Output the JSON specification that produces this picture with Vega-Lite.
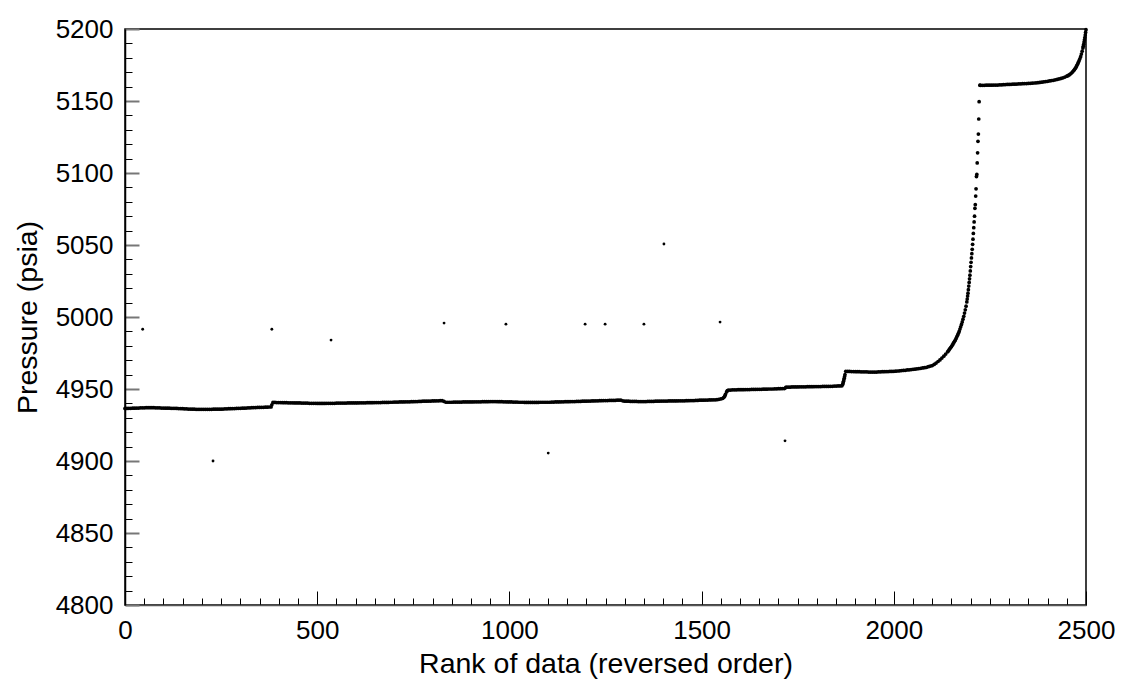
{
"$schema":"https://vega.github.io/schema/vega-lite/v6.json",
"width":961,"height":576,
"autosize":{"type":"none"},
"padding":{"left":125,"top":29,"right":39,"bottom":77},
"background":"white",
"config":{"font":"Liberation Sans","view":{"stroke":"black","strokeWidth":1.5},
"axis":{"grid":false,"labelFont":"Liberation Sans","titleFont":"Liberation Sans","labelFontSize":26,"titleFontSize":28.5,"titleFontWeight":"normal","labelColor":"black","titleColor":"black","domainColor":"black","domainWidth":1.5,"labelOverlap":false,"labelFlush":false}},
"datasets":{
"curve":[
{"r":0,"p":4936.5},{"r":5,"p":4936.5},{"r":10,"p":4936.6},{"r":15,"p":4936.6},{"r":20,"p":4936.7},{"r":25,"p":4936.7},{"r":30,"p":4936.8},{"r":35,"p":4936.8},{"r":40,"p":4936.9},{"r":45,"p":4936.9},{"r":50,"p":4936.9},{"r":55,"p":4937.0},{"r":60,"p":4937.0},{"r":65,"p":4937.0},{"r":70,"p":4937.0},{"r":75,"p":4937.0},{"r":80,"p":4936.9},{"r":85,"p":4936.9},{"r":90,"p":4936.9},{"r":95,"p":4936.8},{"r":100,"p":4936.8},{"r":105,"p":4936.7},{"r":110,"p":4936.7},{"r":115,"p":4936.7},{"r":120,"p":4936.6},{"r":125,"p":4936.6},{"r":130,"p":4936.6},{"r":135,"p":4936.5},{"r":140,"p":4936.4},{"r":145,"p":4936.4},{"r":150,"p":4936.3},{"r":155,"p":4936.2},{"r":160,"p":4936.2},{"r":165,"p":4936.1},{"r":170,"p":4936.1},{"r":175,"p":4936.0},{"r":180,"p":4936.0},{"r":185,"p":4935.9},{"r":190,"p":4935.9},{"r":195,"p":4935.9},{"r":200,"p":4935.9},{"r":205,"p":4935.9},{"r":210,"p":4935.9},{"r":215,"p":4935.9},{"r":220,"p":4935.9},{"r":225,"p":4935.9},{"r":230,"p":4936.0},{"r":235,"p":4936.0},{"r":240,"p":4936.0},{"r":245,"p":4936.0},{"r":250,"p":4936.0},{"r":255,"p":4936.1},{"r":260,"p":4936.2},{"r":265,"p":4936.2},{"r":270,"p":4936.3},{"r":275,"p":4936.3},{"r":280,"p":4936.4},{"r":285,"p":4936.4},{"r":290,"p":4936.5},{"r":295,"p":4936.6},{"r":300,"p":4936.6},{"r":305,"p":4936.7},{"r":310,"p":4936.7},{"r":315,"p":4936.8},{"r":320,"p":4936.9},{"r":325,"p":4936.9},{"r":330,"p":4937.0},{"r":335,"p":4937.1},{"r":340,"p":4937.1},{"r":345,"p":4937.2},{"r":350,"p":4937.2},{"r":355,"p":4937.3},{"r":360,"p":4937.3},{"r":365,"p":4937.4},{"r":370,"p":4937.4},{"r":375,"p":4937.5},{"r":380,"p":4937.5},{"r":382,"p":4939.0},{"r":385,"p":4940.7},
{"r":390,"p":4940.7},{"r":395,"p":4940.6},{"r":400,"p":4940.6},{"r":405,"p":4940.6},{"r":410,"p":4940.5},{"r":415,"p":4940.5},{"r":420,"p":4940.5},{"r":425,"p":4940.4},{"r":430,"p":4940.4},{"r":435,"p":4940.4},{"r":440,"p":4940.3},{"r":445,"p":4940.3},{"r":450,"p":4940.3},{"r":455,"p":4940.3},{"r":460,"p":4940.2},{"r":465,"p":4940.2},{"r":470,"p":4940.2},{"r":475,"p":4940.2},{"r":480,"p":4940.1},{"r":485,"p":4940.1},{"r":490,"p":4940.1},{"r":495,"p":4940.1},{"r":500,"p":4940.0},{"r":505,"p":4940.0},{"r":510,"p":4940.0},{"r":515,"p":4940.0},{"r":520,"p":4940.0},{"r":525,"p":4940.1},{"r":530,"p":4940.1},{"r":535,"p":4940.1},{"r":540,"p":4940.1},{"r":545,"p":4940.1},{"r":550,"p":4940.2},{"r":555,"p":4940.2},{"r":560,"p":4940.2},{"r":565,"p":4940.2},{"r":570,"p":4940.2},{"r":575,"p":4940.2},{"r":580,"p":4940.3},{"r":585,"p":4940.3},{"r":590,"p":4940.3},{"r":595,"p":4940.3},{"r":600,"p":4940.3},{"r":605,"p":4940.3},{"r":610,"p":4940.4},{"r":615,"p":4940.4},{"r":620,"p":4940.4},{"r":625,"p":4940.4},{"r":630,"p":4940.5},{"r":635,"p":4940.5},{"r":640,"p":4940.5},{"r":645,"p":4940.5},{"r":650,"p":4940.6},{"r":655,"p":4940.6},{"r":660,"p":4940.6},{"r":665,"p":4940.6},{"r":670,"p":4940.7},{"r":675,"p":4940.7},{"r":680,"p":4940.7},{"r":685,"p":4940.7},{"r":690,"p":4940.8},{"r":695,"p":4940.8},{"r":700,"p":4940.9},{"r":705,"p":4940.9},{"r":710,"p":4940.9},{"r":715,"p":4941.0},{"r":720,"p":4941.0},{"r":725,"p":4941.0},{"r":730,"p":4941.1},{"r":735,"p":4941.1},{"r":740,"p":4941.1},{"r":745,"p":4941.2},{"r":750,"p":4941.2},{"r":755,"p":4941.3},{"r":760,"p":4941.3},{"r":765,"p":4941.4},{"r":770,"p":4941.4},{"r":775,"p":4941.5},{"r":780,"p":4941.5},{"r":785,"p":4941.5},{"r":790,"p":4941.6},{"r":795,"p":4941.6},{"r":800,"p":4941.7},{"r":805,"p":4941.7},{"r":810,"p":4941.8},{"r":815,"p":4941.8},{"r":820,"p":4941.9},{"r":825,"p":4941.9},{"r":830,"p":4941.4},{"r":835,"p":4940.8},{"r":840,"p":4940.8},{"r":845,"p":4940.8},{"r":850,"p":4940.8},{"r":855,"p":4940.9},{"r":860,"p":4940.9},{"r":865,"p":4940.9},{"r":870,"p":4940.9},{"r":875,"p":4940.9},{"r":880,"p":4941.0},{"r":885,"p":4941.0},{"r":890,"p":4941.0},{"r":895,"p":4941.0},{"r":900,"p":4941.0},{"r":905,"p":4941.0},{"r":910,"p":4941.1},{"r":915,"p":4941.1},{"r":920,"p":4941.1},{"r":925,"p":4941.1},{"r":930,"p":4941.2},{"r":935,"p":4941.2},{"r":940,"p":4941.2},{"r":945,"p":4941.2},{"r":950,"p":4941.3},{"r":955,"p":4941.3},{"r":960,"p":4941.3},{"r":965,"p":4941.3},{"r":970,"p":4941.2},{"r":975,"p":4941.2},{"r":980,"p":4941.2},{"r":985,"p":4941.1},{"r":990,"p":4941.1},{"r":995,"p":4941.0},{"r":1000,"p":4941.0},{"r":1005,"p":4941.0},{"r":1010,"p":4940.9},{"r":1015,"p":4940.9},{"r":1020,"p":4940.9},{"r":1025,"p":4940.8},{"r":1030,"p":4940.8},{"r":1035,"p":4940.8},{"r":1040,"p":4940.7},{"r":1045,"p":4940.7},{"r":1050,"p":4940.7},{"r":1055,"p":4940.7},{"r":1060,"p":4940.7},{"r":1065,"p":4940.7},{"r":1070,"p":4940.7},{"r":1075,"p":4940.7},{"r":1080,"p":4940.8},{"r":1085,"p":4940.8},{"r":1090,"p":4940.8},{"r":1095,"p":4940.8},{"r":1100,"p":4940.8},{"r":1105,"p":4940.8},{"r":1110,"p":4940.9},{"r":1115,"p":4940.9},{"r":1120,"p":4941.0},{"r":1125,"p":4941.0},{"r":1130,"p":4941.0},{"r":1135,"p":4941.1},{"r":1140,"p":4941.1},{"r":1145,"p":4941.2},{"r":1150,"p":4941.2},{"r":1155,"p":4941.2},{"r":1160,"p":4941.3},{"r":1165,"p":4941.3},{"r":1170,"p":4941.3},{"r":1175,"p":4941.4},{"r":1180,"p":4941.4},{"r":1185,"p":4941.4},{"r":1190,"p":4941.5},{"r":1195,"p":4941.5},{"r":1200,"p":4941.5},{"r":1205,"p":4941.6},{"r":1210,"p":4941.6},{"r":1215,"p":4941.7},{"r":1220,"p":4941.7},{"r":1225,"p":4941.8},{"r":1230,"p":4941.8},{"r":1235,"p":4941.9},{"r":1240,"p":4941.9},{"r":1245,"p":4942.0},{"r":1250,"p":4942.0},{"r":1255,"p":4942.0},{"r":1260,"p":4942.1},{"r":1265,"p":4942.1},{"r":1270,"p":4942.1},{"r":1275,"p":4942.1},{"r":1280,"p":4942.2},{"r":1285,"p":4942.2},{"r":1290,"p":4942.2},{"r":1295,"p":4941.8},{"r":1300,"p":4941.5},{"r":1305,"p":4941.5},{"r":1310,"p":4941.5},{"r":1315,"p":4941.4},{"r":1320,"p":4941.4},{"r":1325,"p":4941.4},{"r":1330,"p":4941.4},{"r":1335,"p":4941.3},{"r":1340,"p":4941.3},{"r":1345,"p":4941.3},{"r":1350,"p":4941.3},{"r":1355,"p":4941.3},{"r":1360,"p":4941.4},{"r":1365,"p":4941.4},{"r":1370,"p":4941.4},{"r":1375,"p":4941.4},{"r":1380,"p":4941.5},{"r":1385,"p":4941.5},{"r":1390,"p":4941.5},{"r":1395,"p":4941.6},{"r":1400,"p":4941.6},{"r":1405,"p":4941.6},{"r":1410,"p":4941.6},{"r":1415,"p":4941.7},{"r":1420,"p":4941.7},{"r":1425,"p":4941.7},{"r":1430,"p":4941.7},{"r":1435,"p":4941.7},{"r":1440,"p":4941.8},{"r":1445,"p":4941.8},{"r":1450,"p":4941.8},{"r":1455,"p":4941.8},{"r":1460,"p":4941.9},{"r":1465,"p":4941.9},{"r":1470,"p":4942.0},{"r":1475,"p":4942.0},{"r":1480,"p":4942.0},{"r":1485,"p":4942.1},{"r":1490,"p":4942.1},{"r":1495,"p":4942.2},{"r":1500,"p":4942.2},{"r":1505,"p":4942.2},{"r":1510,"p":4942.3},{"r":1515,"p":4942.3},{"r":1520,"p":4942.4},{"r":1525,"p":4942.4},{"r":1530,"p":4942.5},{"r":1535,"p":4942.5},{"r":1540,"p":4942.6},{"r":1545,"p":4942.8},{"r":1550,"p":4943.1},{"r":1555,"p":4943.5},{"r":1558,"p":4944.2},{"r":1560,"p":4945.0},{"r":1562,"p":4946.2},{"r":1565,"p":4948.0},{"r":1567,"p":4948.8},{"r":1570,"p":4949.3},
{"r":1575,"p":4949.3},{"r":1580,"p":4949.4},{"r":1585,"p":4949.4},{"r":1590,"p":4949.4},{"r":1595,"p":4949.5},{"r":1600,"p":4949.5},{"r":1605,"p":4949.5},{"r":1610,"p":4949.5},{"r":1615,"p":4949.6},{"r":1620,"p":4949.6},{"r":1625,"p":4949.6},{"r":1630,"p":4949.7},{"r":1635,"p":4949.7},{"r":1640,"p":4949.7},{"r":1645,"p":4949.8},{"r":1650,"p":4949.8},{"r":1655,"p":4949.8},{"r":1660,"p":4949.9},{"r":1665,"p":4949.9},{"r":1670,"p":4949.9},{"r":1675,"p":4950.0},{"r":1680,"p":4950.0},{"r":1685,"p":4950.0},{"r":1690,"p":4950.1},{"r":1695,"p":4950.1},{"r":1700,"p":4950.2},{"r":1705,"p":4950.2},{"r":1710,"p":4950.3},{"r":1715,"p":4950.3},{"r":1718,"p":4950.8},{"r":1720,"p":4951.3},{"r":1725,"p":4951.3},{"r":1730,"p":4951.3},{"r":1735,"p":4951.4},{"r":1740,"p":4951.4},{"r":1745,"p":4951.4},{"r":1750,"p":4951.4},{"r":1755,"p":4951.5},{"r":1760,"p":4951.5},{"r":1765,"p":4951.5},{"r":1770,"p":4951.5},{"r":1775,"p":4951.6},{"r":1780,"p":4951.6},{"r":1785,"p":4951.6},{"r":1790,"p":4951.6},{"r":1795,"p":4951.7},{"r":1800,"p":4951.7},{"r":1805,"p":4951.7},{"r":1810,"p":4951.7},{"r":1815,"p":4951.8},{"r":1820,"p":4951.8},{"r":1825,"p":4951.8},{"r":1830,"p":4951.8},{"r":1835,"p":4951.9},{"r":1840,"p":4951.9},{"r":1845,"p":4952.0},{"r":1850,"p":4952.0},{"r":1855,"p":4952.1},{"r":1860,"p":4952.1},{"r":1865,"p":4952.2},{"r":1867,"p":4953.2},{"r":1868,"p":4954.2},{"r":1869,"p":4955.2},{"r":1870,"p":4956.2},{"r":1871,"p":4957.4},{"r":1872,"p":4958.6},{"r":1873,"p":4960.0},{"r":1875,"p":4962.3},
{"r":1880,"p":4962.2},{"r":1885,"p":4962.2},{"r":1890,"p":4962.1},{"r":1895,"p":4962.1},{"r":1900,"p":4962.0},{"r":1905,"p":4962.0},{"r":1910,"p":4962.0},{"r":1915,"p":4961.9},{"r":1920,"p":4961.9},{"r":1925,"p":4961.9},{"r":1930,"p":4961.9},{"r":1935,"p":4961.8},{"r":1940,"p":4961.8},{"r":1945,"p":4961.8},{"r":1950,"p":4961.8},{"r":1955,"p":4961.8},{"r":1960,"p":4961.9},{"r":1965,"p":4961.9},{"r":1970,"p":4962.0},{"r":1975,"p":4962.0},{"r":1980,"p":4962.1},{"r":1985,"p":4962.1},{"r":1990,"p":4962.2},{"r":1995,"p":4962.2},{"r":2000,"p":4962.3},{"r":2005,"p":4962.4},{"r":2010,"p":4962.5},{"r":2015,"p":4962.6},{"r":2020,"p":4962.8},{"r":2025,"p":4962.9},{"r":2030,"p":4963.0},{"r":2035,"p":4963.2},{"r":2040,"p":4963.3},{"r":2045,"p":4963.5},{"r":2050,"p":4963.7},{"r":2055,"p":4963.8},{"r":2060,"p":4964.0},{"r":2065,"p":4964.2},{"r":2070,"p":4964.4},{"r":2075,"p":4964.6},{"r":2080,"p":4964.8},{"r":2085,"p":4965.1},{"r":2090,"p":4965.5},{"r":2095,"p":4965.9},{"r":2100,"p":4966.3},{"r":2105,"p":4967.1},{"r":2110,"p":4968.0},{"r":2115,"p":4969.1},{"r":2120,"p":4970.2},{"r":2125,"p":4971.5},{"r":2130,"p":4972.8},{"r":2135,"p":4974.3},{"r":2140,"p":4975.8},
{"r":2142,"p":4976.5},{"r":2144,"p":4977.3},{"r":2146,"p":4978.1},{"r":2148,"p":4978.8},{"r":2150,"p":4979.5},{"r":2152,"p":4980.4},{"r":2154,"p":4981.3},{"r":2156,"p":4982.2},{"r":2158,"p":4983.1},{"r":2160,"p":4984.0},{"r":2162,"p":4985.1},{"r":2164,"p":4986.2},{"r":2166,"p":4987.4},{"r":2168,"p":4988.7},{"r":2170,"p":4990.0},{"r":2172,"p":4991.6},{"r":2174,"p":4993.2},{"r":2176,"p":4994.8},{"r":2178,"p":4996.6},{"r":2180,"p":4998.5},{"r":2182,"p":5000.5},{"r":2184,"p":5002.7},{"r":2186,"p":5005.0},{"r":2188,"p":5007.5},
{"r":2190,"p":5010.5},{"r":2191,"p":5012.5},{"r":2192,"p":5014.5},{"r":2193,"p":5016.5},{"r":2194,"p":5019.0},{"r":2195,"p":5021.5},{"r":2196,"p":5024.0},{"r":2197,"p":5026.5},{"r":2198,"p":5029.0},{"r":2199,"p":5032.0},{"r":2200,"p":5035.0},{"r":2201,"p":5038.0},{"r":2202,"p":5041.0},{"r":2203,"p":5044.0},{"r":2204,"p":5047.0},{"r":2205,"p":5050.5},{"r":2206,"p":5054.0},{"r":2207,"p":5058.0},{"r":2208,"p":5062.0},{"r":2209,"p":5066.0},{"r":2210,"p":5070.0},{"r":2211,"p":5075.5},{"r":2212,"p":5078.0},{"r":2213,"p":5084.0},{"r":2214,"p":5089.0},{"r":2215,"p":5097.5},{"r":2216,"p":5099.0},{"r":2217,"p":5107.0},{"r":2218,"p":5114.0},{"r":2219,"p":5122.0},{"r":2220,"p":5127.0},{"r":2221,"p":5137.5},{"r":2222,"p":5149.5},
{"r":2224,"p":5161.0},{"r":2225,"p":5160.9},{"r":2230,"p":5160.9},{"r":2235,"p":5160.9},{"r":2240,"p":5161.0},{"r":2245,"p":5161.0},{"r":2250,"p":5161.0},{"r":2255,"p":5161.0},{"r":2260,"p":5161.1},{"r":2265,"p":5161.1},{"r":2270,"p":5161.1},{"r":2275,"p":5161.2},{"r":2280,"p":5161.2},{"r":2285,"p":5161.3},{"r":2290,"p":5161.4},{"r":2295,"p":5161.5},{"r":2300,"p":5161.5},{"r":2305,"p":5161.6},{"r":2310,"p":5161.7},{"r":2315,"p":5161.7},{"r":2320,"p":5161.8},{"r":2325,"p":5161.9},{"r":2330,"p":5161.9},{"r":2335,"p":5162.0},{"r":2340,"p":5162.1},{"r":2345,"p":5162.1},{"r":2350,"p":5162.2},{"r":2355,"p":5162.3},{"r":2360,"p":5162.4},{"r":2365,"p":5162.5},{"r":2370,"p":5162.6},{"r":2375,"p":5162.7},{"r":2380,"p":5162.9},{"r":2385,"p":5163.1},{"r":2390,"p":5163.3},{"r":2395,"p":5163.5},{"r":2400,"p":5163.7},{"r":2405,"p":5163.9},{"r":2410,"p":5164.2},{"r":2415,"p":5164.4},{"r":2420,"p":5164.7},{"r":2425,"p":5165.0},{"r":2430,"p":5165.3},{"r":2435,"p":5165.7},{"r":2440,"p":5166.1},{"r":2445,"p":5166.6},{"r":2450,"p":5167.2},{"r":2453,"p":5167.6},{"r":2456,"p":5168.1},{"r":2459,"p":5168.7},{"r":2462,"p":5169.4},{"r":2465,"p":5170.2},{"r":2468,"p":5171.1},{"r":2470,"p":5171.8},{"r":2472,"p":5172.6},{"r":2474,"p":5173.5},{"r":2476,"p":5174.5},{"r":2478,"p":5175.6},{"r":2480,"p":5176.8},{"r":2482,"p":5178.0},{"r":2484,"p":5179.3},{"r":2486,"p":5180.8},{"r":2488,"p":5182.6},{"r":2490,"p":5184.6},{"r":2492,"p":5186.8},{"r":2493,"p":5188.0},{"r":2494,"p":5189.4},{"r":2495,"p":5190.9},{"r":2496,"p":5192.5},{"r":2497,"p":5194.1},{"r":2498,"p":5195.8},{"r":2499,"p":5197.6},{"r":2500,"p":5199.5}
],
"outliers":[
{"r":46,"p":4991.5},{"r":229,"p":4900.0},{"r":382,"p":4991.5},{"r":536,"p":4984.0},{"r":830,"p":4995.8},{"r":991,"p":4995.0},{"r":1101,"p":4905.5},{"r":1197,"p":4995.0},{"r":1249,"p":4995.0},{"r":1350,"p":4995.0},{"r":1402,"p":5050.7},{"r":1548,"p":4996.5},{"r":1717,"p":4914.0}
]},
"encoding":{
"x":{"field":"r","type":"quantitative","scale":{"domain":[0,2500],"nice":false,"zero":false},
"axis":{"title":"Rank of data (reversed order)","format":"d","values":[0,50,100,150,200,250,300,350,400,450,500,550,600,650,700,750,800,850,900,950,1000,1050,1100,1150,1200,1250,1300,1350,1400,1450,1500,1550,1600,1650,1700,1750,1800,1850,1900,1950,2000,2050,2100,2150,2200,2250,2300,2350,2400,2450,2500],
"labelExpr":"datum.value % 500 === 0 ? datum.label : ''",
"tickSize":{"condition":{"test":"datum.value % 500 === 0","value":-14},"value":-7},
"tickColor":"black","tickWidth":1,"domainColor":"#555","labelPadding":26,"titlePadding":-1}},
"y":{"field":"p","type":"quantitative","scale":{"domain":[4800,5200],"nice":false,"zero":false},
"axis":{"title":"Pressure (psia)","format":"d","values":[4800,4810,4820,4830,4840,4850,4860,4870,4880,4890,4900,4910,4920,4930,4940,4950,4960,4970,4980,4990,5000,5010,5020,5030,5040,5050,5060,5070,5080,5090,5100,5110,5120,5130,5140,5150,5160,5170,5180,5190,5200],
"labelExpr":"datum.value % 50 === 0 ? datum.label : ''",
"tickSize":{"condition":{"test":"datum.value % 50 === 0","value":-14},"value":-7},
"tickColor":{"condition":{"test":"datum.value % 50 === 0","value":"#777"},"value":"black"},
"tickWidth":{"condition":{"test":"datum.value % 50 === 0","value":2},"value":1},
"labelPadding":26,"titlePadding":13}}
},
"layer":[
{"data":{"name":"curve"},"mark":{"type":"circle","size":14,"color":"black","opacity":1}},
{"data":{"name":"outliers"},"mark":{"type":"circle","size":8,"color":"black","opacity":1}}
]
}
